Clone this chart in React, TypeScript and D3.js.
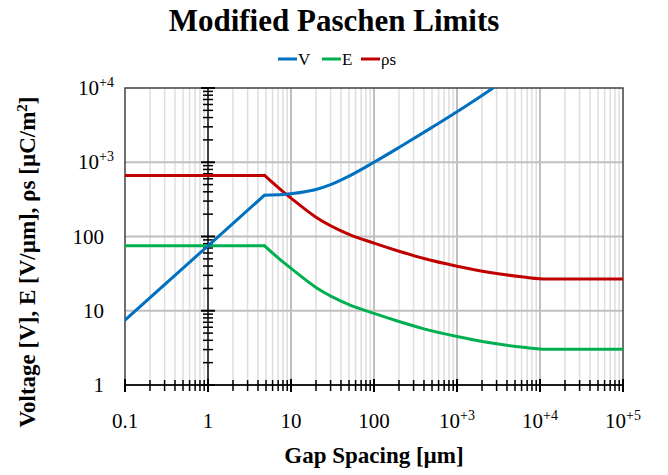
import React, { useEffect, useRef } from 'react';
import * as d3 from 'd3';

// gap spacing [um] and the values
const gapV = [0.1, 1, 4.8, 8, 10, 20, 30, 50, 100, 200, 500, 1000, 2000, 2720];
const voltage = [7.5, 75, 360, 367, 377, 430, 500, 650, 1000, 1580, 2950, 4790, 7950, 10000];

const gapE = [0.1, 1, 4.8, 8, 10, 20, 50, 100, 200, 400, 1000, 2500, 6300, 12000, 100000];
const field = [75, 75, 75, 45.4, 37.2, 20.6, 12.1, 9.2, 7.16, 5.7, 4.49, 3.7, 3.22, 3.02, 3.02];
const charge = [664, 664, 664, 402, 329, 182, 107, 81.5, 63.4, 50.5, 39.8, 32.8, 28.5, 26.7, 26.7];

const xTicks = [0.1, 1, 10, 100, 1e3, 1e4, 1e5];
const xTickLabels = ['0.1', '1', '10', '100', '10|+3', '10|+4', '10|+5'];
const yTicks = [1, 10, 100, 1e3, 1e4];
const yTickLabels = ['1', '10', '100', '10|+3', '10|+4'];

const seriesNames = ['V', 'E', 'ρs'];
const seriesColors = ['#0070C0', '#00B050', '#C00000'];

const KNEE = 4.8;

export default function App() {
  const ref = useRef<SVGSVGElement>(null);

  useEffect(() => {
    const width = 668, height = 475;
    const margin = { top: 88, right: 45, bottom: 90, left: 125 };
    const svg = d3.select(ref.current);
    svg.selectAll('*').remove();
    svg.attr('width', width).attr('height', height);

    const serif = '"Liberation Serif", "Times New Roman", serif';

    const x = d3.scaleLog().domain([0.1, 1e5]).range([margin.left, width - margin.right]);
    const y = d3.scaleLog().domain([1, 1e4]).range([height - margin.bottom, margin.top]);
    const [x0, x1] = x.range();
    const [y0, y1] = y.range();

    // minor / major values along each axis
    const xMinor: number[] = [];
    for (let e = -1; e < 5; e++) for (let k = 2; k <= 9; k++) xMinor.push(k * Math.pow(10, e));
    const yMinor: number[] = [];
    for (let e = 0; e < 4; e++) for (let k = 2; k <= 9; k++) yMinor.push(k * Math.pow(10, e));

    const grid = svg.append('g');
    grid.selectAll('line.minor').data(xMinor).enter().append('line')
      .attr('x1', d => x(d)).attr('x2', d => x(d))
      .attr('y1', y1).attr('y2', y0)
      .attr('stroke', '#dedede').attr('stroke-width', 1.5);
    grid.selectAll('line.majorx').data([10, 100, 1e3, 1e4]).enter().append('line')
      .attr('x1', d => x(d)).attr('x2', d => x(d))
      .attr('y1', y1).attr('y2', y0)
      .attr('stroke', '#c0c0c0').attr('stroke-width', 2);
    grid.selectAll('line.majory').data([10, 100, 1e3]).enter().append('line')
      .attr('x1', x0).attr('x2', x1)
      .attr('y1', d => y(d)).attr('y2', d => y(d))
      .attr('stroke', '#c0c0c0').attr('stroke-width', 2);

    // frame
    svg.append('rect')
      .attr('x', x0).attr('y', y1)
      .attr('width', x1 - x0).attr('height', y0 - y1)
      .attr('fill', 'none').attr('stroke', '#404040').attr('stroke-width', 1.5);

    // x axis with crossing ticks
    const ax = svg.append('g').attr('stroke', '#000');
    ax.append('line').attr('x1', x0).attr('x2', x1).attr('y1', y0).attr('y2', y0).attr('stroke-width', 1.5);
    ax.selectAll('line.xm').data(xMinor).enter().append('line')
      .attr('x1', d => x(d)).attr('x2', d => x(d))
      .attr('y1', y0 - 5).attr('y2', y0 + 6).attr('stroke-width', 1.5);
    ax.selectAll('line.xM').data(xTicks).enter().append('line')
      .attr('x1', d => x(d)).attr('x2', d => x(d))
      .attr('y1', y0 - 6).attr('y2', y0 + 7).attr('stroke-width', 2);

    // vertical axis crossing at gap = 1
    const xc = x(1);
    ax.append('line').attr('x1', xc).attr('x2', xc).attr('y1', y1).attr('y2', y0 + 7).attr('stroke-width', 1.5);
    ax.selectAll('line.ym').data(yMinor).enter().append('line')
      .attr('x1', xc - 5).attr('x2', xc + 5)
      .attr('y1', d => y(d)).attr('y2', d => y(d)).attr('stroke-width', 1.5);
    ax.selectAll('line.yM').data(yTicks).enter().append('line')
      .attr('x1', xc - 7).attr('x2', xc + 7)
      .attr('y1', d => y(d)).attr('y2', d => y(d)).attr('stroke-width', 2);

    // tick labels
    const label = (sel: any, s: string) => {
      const [base, sup] = s.split('|');
      sel.append('tspan').text(base);
      if (sup) sel.append('tspan').attr('font-size', 14).attr('dy', -8).text(sup);
    };
    xTicks.forEach((t, i) => {
      const txt = svg.append('text')
        .attr('x', x(t)).attr('y', 428)
        .attr('text-anchor', 'middle')
        .attr('font-family', serif).attr('font-size', 21).attr('fill', '#000');
      label(txt, xTickLabels[i]);
    });
    yTicks.forEach((t, i) => {
      const powered = yTickLabels[i].includes('|');
      const txt = svg.append('text')
        .attr('x', powered ? 114 : 104).attr('y', y(t) + 7)
        .attr('text-anchor', 'end')
        .attr('font-family', serif).attr('font-size', 21).attr('fill', '#000');
      label(txt, yTickLabels[i]);
    });

    // series
    svg.append('clipPath').attr('id', 'plotclip').append('rect')
      .attr('x', x0).attr('y', y1).attr('width', x1 - x0).attr('height', y0 - y1);
    const plot = svg.append('g').attr('clip-path', 'url(#plotclip)');

    const drawSeries = (gaps: number[], vals: number[], color: string) => {
      const pts = gaps.map((g, i) => [x(g), y(vals[i])] as [number, number]);
      const k = gaps.indexOf(KNEE);
      const straight = d3.line().curve(d3.curveLinear);
      const smooth = d3.line().curve(d3.curveMonotoneX);
      plot.append('path').attr('d', straight(pts.slice(0, k + 1)))
        .attr('fill', 'none').attr('stroke', color).attr('stroke-width', 3)
        .attr('stroke-linecap', 'round');
      plot.append('path').attr('d', smooth(pts.slice(k)))
        .attr('fill', 'none').attr('stroke', color).attr('stroke-width', 3)
        .attr('stroke-linecap', 'round');
    };
    drawSeries(gapE, charge, seriesColors[2]);
    drawSeries(gapE, field, seriesColors[1]);
    drawSeries(gapV, voltage, seriesColors[0]);

    // title
    svg.append('text')
      .attr('x', 334).attr('y', 31)
      .attr('text-anchor', 'middle')
      .attr('font-family', serif).attr('font-weight', 'bold').attr('font-size', 31)
      .text('Modified Paschen Limits');

    // legend
    const legendX = [278, 322, 361];
    seriesNames.forEach((n, i) => {
      svg.append('line')
        .attr('x1', legendX[i]).attr('x2', legendX[i] + 19)
        .attr('y1', 59).attr('y2', 59)
        .attr('stroke', seriesColors[i]).attr('stroke-width', 3);
      svg.append('text')
        .attr('x', legendX[i] + 20).attr('y', 65)
        .attr('font-family', serif).attr('font-size', 17)
        .text(n);
    });

    // axis titles
    svg.append('text')
      .attr('x', (x0 + x1) / 2).attr('y', 463)
      .attr('text-anchor', 'middle')
      .attr('font-family', serif).attr('font-weight', 'bold').attr('font-size', 23)
      .text('Gap Spacing [µm]');

    const yt = svg.append('text')
      .attr('transform', 'translate(35,262) rotate(-90)')
      .attr('text-anchor', 'middle')
      .attr('font-family', serif).attr('font-weight', 'bold').attr('font-size', 23);
    yt.append('tspan').text('Voltage [V], E [V/µm], ρs [µC/m');
    yt.append('tspan').attr('font-size', 15).attr('dy', -8).text('2');
    yt.append('tspan').attr('dy', 8).text(']');
  }, []);

  return (
    <svg ref={ref} style={{ position: 'absolute', left: 0, top: 0, background: '#fff' }} />
  );
}
